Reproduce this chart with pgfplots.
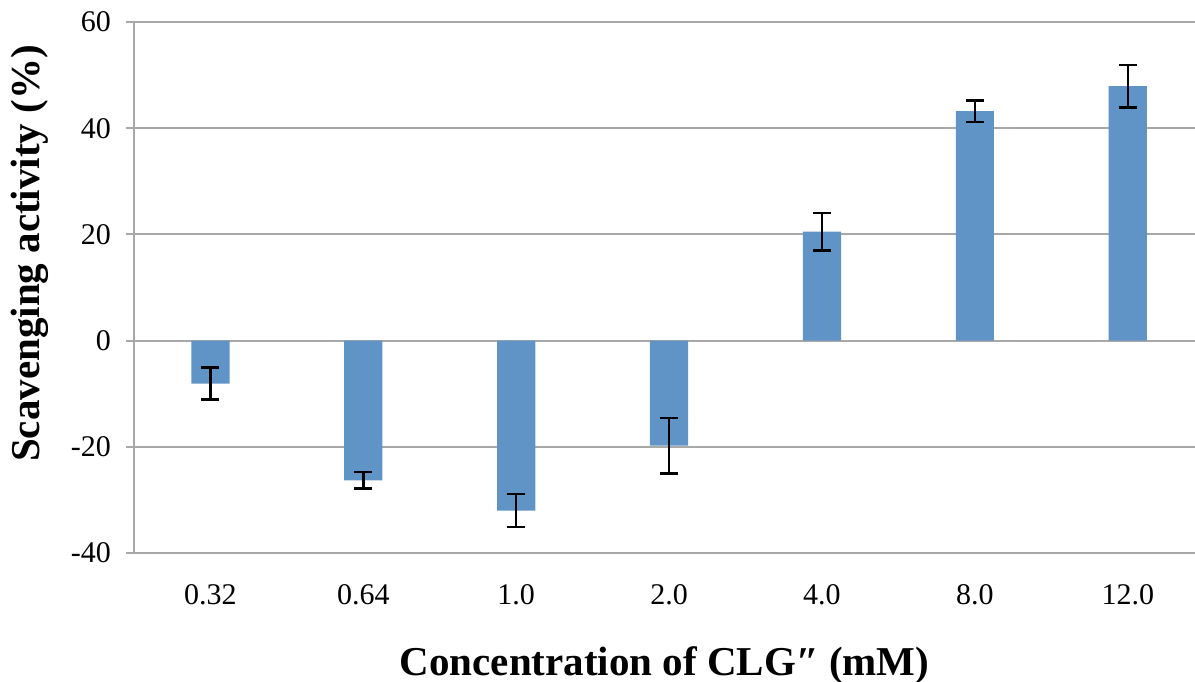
\documentclass[border=0pt]{standalone}
\usepackage{fontspec}
\setmainfont{Liberation Serif}
\usepackage{pgfplots}
\pgfplotsset{compat=1.18}
\definecolor{barblue}{HTML}{6194C6}
\definecolor{gridgray}{HTML}{A8A8A8}
\begin{document}
\begin{tikzpicture}
\begin{axis}[
  scale only axis,
  width=530.5pt, height=265.5pt,
  xmin=-0.5, xmax=6.44,
  ymin=-40, ymax=60,
  ytick={-40,-20,0,20,40,60},
  xtick={0,1,2,3,4,5,6},
  xticklabels={0.32,0.64,1.0,2.0,4.0,8.0,12.0},
  axis x line*=bottom, axis y line*=left,
  axis line style={gridgray, line width=1pt, -},
  x axis line style={draw=none},
  ymajorgrids,
  grid style={gridgray, line width=1pt},
  ytick style={gridgray, line width=1pt},
  tick align=outside,
  major tick length=4pt,
  xtick style={draw=none},
  /pgf/number format/assume math mode=true,
  ticklabel style={font=\fontsize{15}{18}\selectfont, black},
  yticklabel style={xshift=-4pt},
  xticklabel style={yshift=-8pt},
  xlabel={Concentration of CLG″ (mM)},
  ylabel={Scavenging activity (\%)},
  label style={font=\bfseries\fontsize{20.5}{24}\selectfont},
  xlabel style={yshift=-14pt},
  ylabel style={yshift=4.5pt, xshift=17pt},
  clip=false,
]
\addplot[ybar, bar width=0.25, bar shift=0pt, fill=barblue, draw=none,
  error bars/.cd, y dir=both, y explicit,
  error bar style={black, line width=1.2pt},
  error mark options={black, line width=1.2pt, mark size=4.5pt, rotate=90}]
  coordinates {
  (0,-8.1) +- (0,3.0)
  (1,-26.3) +- (0,1.55)
  (2,-32.0) +- (0,3.15)
  (3,-19.8) +- (0,5.25)
  (4,20.5) +- (0,3.5)
  (5,43.2) +- (0,2.05)
  (6,47.9) +- (0,4.0)
  };
\end{axis}
\pgfresetboundingbox
\path (current axis.north east) ++(0,11pt) coordinate (tr);
\path (current axis.south west) ++(-67pt,-64pt) rectangle (tr);
\end{tikzpicture}
\end{document}
